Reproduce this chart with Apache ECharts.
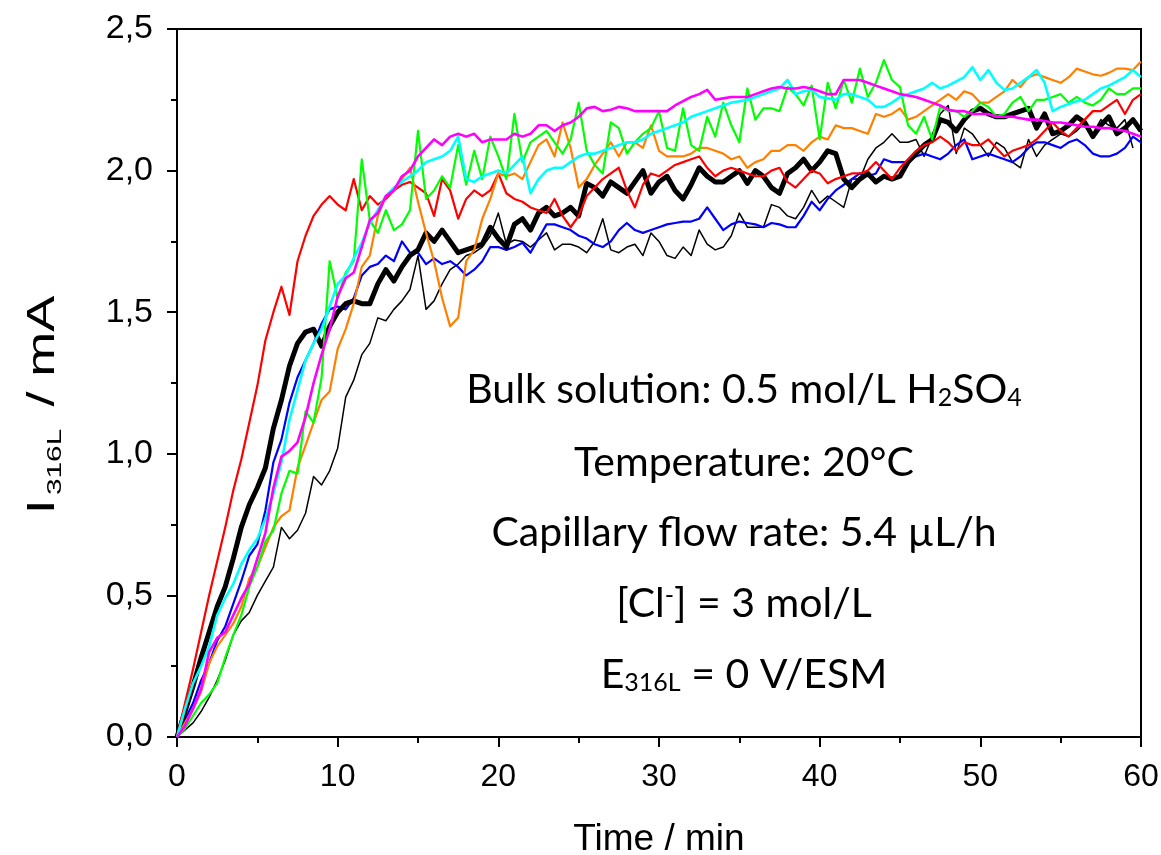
<!DOCTYPE html>
<html>
<head>
<meta charset="utf-8">
<title>I316L vs time</title>
<script src="https://cdn.jsdelivr.net/npm/echarts@6.0.0/dist/echarts.min.js"></script>
<style>
  html, body { margin: 0; padding: 0; background: #fff; }
  #chart { width: 1161px; height: 855px; }
</style>
</head>
<body>
<div id="chart"></div>
<script>
// sampling grid, min
const time = [
  0, 0.5, 1, 1.5, 2, 2.5, 3, 3.5, 4, 4.5,
  5, 5.5, 6, 6.5, 7, 7.5, 8, 8.5, 9, 9.5,
  10, 10.5, 11, 11.5, 12, 12.5, 13, 13.5, 14, 14.5,
  15, 15.5, 16, 16.5, 17, 17.5, 18, 18.5, 19, 19.5,
  20, 20.5, 21, 21.5, 22, 22.5, 23, 23.5, 24, 24.5,
  25, 25.5, 26, 26.5, 27, 27.5, 28, 28.5, 29, 29.5,
  30, 30.5, 31, 31.5, 32, 32.5, 33, 33.5, 34, 34.5,
  35, 35.5, 36, 36.5, 37, 37.5, 38, 38.5, 39, 39.5,
  40, 40.5, 41, 41.5, 42, 42.5, 43, 43.5, 44, 44.5,
  45, 45.5, 46, 46.5, 47, 47.5, 48, 48.5, 49, 49.5,
  50, 50.5, 51, 51.5, 52, 52.5, 53, 53.5, 54, 54.5,
  55, 55.5, 56, 56.5, 57, 57.5, 58, 58.5, 59, 59.5,
  60
];

// current, mA
const red = [
  0, 0.12, 0.24, 0.37, 0.50, 0.62, 0.74, 0.87, 0.98, 1.11,
  1.24, 1.40, 1.50, 1.59, 1.49, 1.68, 1.77, 1.84, 1.88, 1.91,
  1.88, 1.86, 1.97, 1.86, 1.91, 1.88, 1.90, 1.93, 1.95, 1.96,
  1.94, 1.92, 1.84, 1.97, 1.93, 1.83, 1.90, 1.93, 1.91, 1.93,
  1.99, 1.92, 1.90, 1.89, 1.87, 1.86, 1.85, 1.90, 1.84, 1.80,
  1.84, 1.91, 1.94, 1.97, 1.99, 2.01, 1.93, 1.87, 1.95, 1.99,
  1.98, 2.00, 2.02, 2.03, 2.04, 2.05, 2.01, 1.98, 2.00, 2.01,
  2.00, 1.99, 1.98, 1.98, 2.00, 2.01, 1.96, 1.94, 1.97, 2.00,
  1.99, 1.955, 1.97, 1.98, 1.99, 1.99, 2.00, 2.03, 2.00, 1.97,
  2.01, 2.04, 2.07, 2.09, 2.10, 2.12, 2.10, 2.07, 2.10, 2.09,
  2.09, 2.11, 2.08, 2.05, 2.07, 2.08, 2.09, 2.11, 2.14, 2.17,
  2.14, 2.12, 2.15, 2.18, 2.21, 2.21, 2.23, 2.25, 2.20, 2.25,
  2.27
];
const blackThick = [
  0, 0.09, 0.18, 0.28, 0.37, 0.46, 0.53, 0.63, 0.74, 0.82,
  0.88, 0.95, 1.09, 1.19, 1.31, 1.39, 1.43, 1.44, 1.38, 1.45,
  1.50, 1.53, 1.54, 1.53, 1.53, 1.60, 1.65, 1.61, 1.66, 1.70,
  1.72, 1.78, 1.75, 1.79, 1.75, 1.71, 1.72, 1.73, 1.74, 1.80,
  1.76, 1.73, 1.81, 1.83, 1.79, 1.85, 1.87, 1.84, 1.85, 1.87,
  1.84, 1.955, 1.94, 1.91, 1.96, 1.94, 1.92, 1.96, 2.00, 1.92,
  1.96, 1.98, 1.93, 1.90, 1.95, 2.01, 1.98, 1.96, 1.96, 1.98,
  2.00, 1.955, 2.00, 1.98, 1.94, 1.92, 1.99, 2.01, 2.04, 2.00,
  2.03, 2.07, 2.06, 1.97, 1.94, 1.97, 1.99, 1.96, 1.98, 1.97,
  1.98, 2.03, 2.06, 2.09, 2.11, 2.18, 2.17, 2.14, 2.18, 2.21,
  2.22, 2.20, 2.19, 2.19, 2.20, 2.21, 2.22, 2.15, 2.20, 2.13,
  2.14, 2.16, 2.19, 2.17, 2.12, 2.16, 2.19, 2.13, 2.15, 2.18,
  2.14
];
const blackThin = [
  0, 0.025, 0.05, 0.09, 0.14, 0.20, 0.27, 0.36, 0.41, 0.44,
  0.50, 0.55, 0.60, 0.74, 0.70, 0.73, 0.79, 0.92, 0.89, 0.94,
  1.02, 1.20, 1.26, 1.35, 1.39, 1.48, 1.47, 1.51, 1.54, 1.58,
  1.70, 1.51, 1.54, 1.60, 1.65, 1.67, 1.70, 1.71, 1.73, 1.77,
  1.85, 1.74, 1.755, 1.75, 1.73, 1.755, 1.78, 1.72, 1.74, 1.74,
  1.73, 1.71, 1.75, 1.83, 1.72, 1.71, 1.73, 1.74, 1.70, 1.78,
  1.75, 1.70, 1.69, 1.73, 1.70, 1.79, 1.74, 1.72, 1.73, 1.77,
  1.85, 1.80, 1.80, 1.80, 1.88, 1.87, 1.84, 1.83, 1.87, 1.93,
  1.885, 1.91, 1.89, 1.87, 1.97, 1.97, 2.04, 2.08, 2.10, 2.13,
  2.10, 2.10, 2.11, 2.05, 2.12, 2.20, 2.23, 2.06, 2.15, 2.13,
  2.09, 2.05, 2.10, 2.08, 2.03, 2.01, 2.11, 2.05, 2.09, 2.11,
  2.13, 2.12, 2.14, 2.17, 2.13, 2.18, 2.16, 2.15, 2.18, 2.08,
  null
];
const blue = [
  0, 0.06, 0.12, 0.20, 0.26, 0.34, 0.39, 0.47, 0.55, 0.64,
  0.68, 0.80, 0.97, 1.05, 1.18, 1.27, 1.33, 1.39, 1.46, 1.51,
  1.52, 1.51, 1.55, 1.63, 1.66, 1.67, 1.70, 1.68, 1.75, 1.71,
  1.71, 1.67, 1.69, 1.67, 1.68, 1.66, 1.63, 1.65, 1.68, 1.73,
  1.73, 1.72, 1.73, 1.745, 1.71, 1.76, 1.81, 1.81, 1.80, 1.79,
  1.77, 1.76, 1.74, 1.73, 1.75, 1.79, 1.815, 1.79, 1.78, 1.79,
  1.80, 1.81, 1.815, 1.82, 1.82, 1.83, 1.87, 1.83, 1.79, 1.81,
  1.82, 1.815, 1.81, 1.80, 1.815, 1.81, 1.80, 1.80, 1.84, 1.89,
  1.86, 1.90, 1.93, 1.95, 1.97, 1.99, 1.98, 1.99, 2.04, 2.03,
  2.03, 2.03, 2.05, 2.06, 2.05, 2.04, 2.06, 2.09, 2.11, 2.04,
  2.05, 2.06, 2.05, 2.04, 2.03, 2.05, 2.08, 2.10, 2.10, 2.09,
  2.08, 2.10, 2.11, 2.09, 2.06, 2.05, 2.05, 2.06, 2.08, 2.12,
  2.10
];
const orange = [
  0, 0.05, 0.10, 0.16, 0.26, 0.32, 0.36, 0.40, 0.46, 0.56,
  0.60, 0.67, 0.74, 0.78, 0.80, 0.95, 1.03, 1.11, 1.19, 1.22,
  1.37, 1.44, 1.53, 1.66, 1.70, 1.84, 1.91, 1.93, 1.97, 2.01,
  1.89, 1.78, 1.68, 1.55, 1.45, 1.48, 1.68, 1.72, 1.83, 1.90,
  1.99, 1.98, 1.99, 1.97, 2.03, 2.09, 2.11, 2.05, 2.17, 2.08,
  1.94, 1.97, 2.02, 2.06, 2.10, 2.05, 2.10, 2.10, 2.08, 2.16,
  2.07, 2.05, 2.05, 2.05, 2.06, 2.08, 2.08, 2.07, 2.06, 2.04,
  2.05, 2.01, 2.03, 2.04, 2.07, 2.07, 2.09, 2.09, 2.07, 2.10,
  2.12, 2.11, 2.16, 2.15, 2.15, 2.14, 2.13, 2.20, 2.19, 2.20,
  2.22, 2.18, 2.19, 2.21, 2.23, 2.25, 2.27, 2.25, 2.28, 2.27,
  2.24, 2.24, 2.26, 2.28, 2.32, 2.295, 2.33, 2.34, 2.33, 2.32,
  2.31, 2.33, 2.36, 2.35, 2.34, 2.335, 2.345, 2.36, 2.36, 2.355,
  2.385
];
const green = [
  0, 0.03, 0.075, 0.12, 0.15, 0.19, 0.28, 0.36, 0.43, 0.53,
  0.60, 0.69, 0.73, 0.86, 0.94, 0.93, 1.15, 1.11, 1.27, 1.68,
  1.55, 1.64, 1.68, 2.04, 1.825, 1.78, 1.86, 1.79, 1.81, 1.86,
  2.14, 1.90, 1.93, 1.98, 1.94, 2.09, 1.95, 2.07, 1.97, 2.12,
  2.05, 1.97, 2.20, 2.03, 2.10, 2.12, 2.14, 2.10, 2.06, 2.11,
  2.24, 2.07, 2.02, 1.99, 2.17, 2.15, 2.06, 2.10, 2.13, 2.15,
  2.21, 2.08, 2.07, 2.22, 2.09, 2.07, 2.19, 2.12, 2.24, 2.16,
  2.10, 2.29, 2.18, 2.22, 2.22, 2.21, 2.295, 2.27, 2.23, 2.30,
  2.11, 2.31, 2.22, 2.32, 2.24, 2.36, 2.26, 2.31, 2.39, 2.32,
  2.295, 2.16, 2.13, 2.19, 2.11, 2.225, 2.21, 2.21, 2.19, 2.21,
  2.24, 2.225, 2.19, 2.20, 2.24, 2.26, 2.21, 2.25, 2.25, 2.26,
  2.27, 2.24, 2.26, 2.24, 2.23, 2.25, 2.29, 2.27, 2.27, 2.29,
  2.29
];
const cyan = [
  0, 0.10, 0.19, 0.25, 0.32, 0.43, 0.49, 0.54, 0.61, 0.66,
  0.70, 0.77, 0.86, 0.97, 1.12, 1.225, 1.33, 1.39, 1.44, 1.52,
  1.60, 1.63, 1.69, 1.745, 1.815, 1.86, 1.91, 1.94, 1.96, 1.98,
  2.00, 2.03, 2.04, 2.05, 2.07, 2.12, 1.97, 1.96, 1.98, 1.99,
  2.00, 1.99, 2.02, 2.05, 1.92, 1.97, 2.00, 2.01, 2.01, 2.03,
  2.05, 2.06, 2.06, 2.07, 2.08, 2.09, 2.10, 2.10, 2.11, 2.13,
  2.14, 2.15, 2.16, 2.17, 2.19, 2.20, 2.21, 2.22, 2.23, 2.24,
  2.245, 2.25, 2.26, 2.27, 2.28, 2.29, 2.32, 2.27, 2.28, 2.285,
  2.26, 2.255, 2.25, 2.27, 2.27, 2.26, 2.25, 2.225, 2.225, 2.24,
  2.26, 2.27, 2.28, 2.29, 2.31, 2.29, 2.30, 2.315, 2.33, 2.365,
  2.32, 2.355, 2.31, 2.285, 2.29, 2.31, 2.33, 2.355, 2.31, 2.21,
  2.225, 2.235, 2.245, 2.25, 2.27, 2.29, 2.30, 2.315, 2.33, 2.355,
  2.33
];
const magenta = [
  0, 0.04, 0.10, 0.17, 0.30, 0.35, 0.37, 0.43, 0.49, 0.54,
  0.63, 0.72, 0.88, 0.99, 1.01, 1.04, 1.13, 1.25, 1.35, 1.44,
  1.555, 1.62, 1.64, 1.73, 1.825, 1.85, 1.91, 1.93, 1.98, 2.00,
  2.05, 2.08, 2.11, 2.09, 2.12, 2.13, 2.12, 2.13, 2.10, 2.11,
  2.11, 2.11, 2.13, 2.12, 2.13, 2.16, 2.16, 2.14, 2.16, 2.17,
  2.19, 2.22, 2.225, 2.21, 2.215, 2.225, 2.22, 2.21, 2.21, 2.21,
  2.21, 2.21, 2.23, 2.245, 2.26, 2.27, 2.285, 2.25, 2.255, 2.26,
  2.26, 2.26, 2.27, 2.28, 2.29, 2.295, 2.29, 2.29, 2.295, 2.29,
  2.28, 2.27, 2.27, 2.32, 2.32, 2.32, 2.31, 2.30, 2.29, 2.28,
  2.27, 2.265, 2.26, 2.25, 2.24, 2.23, 2.215, 2.21, 2.21, 2.20,
  2.20, 2.20, 2.19, 2.19, 2.19, 2.185, 2.18, 2.18, 2.175, 2.17,
  2.17, 2.165, 2.16, 2.155, 2.155, 2.15, 2.15, 2.145, 2.14, 2.13,
  2.12
];

// drawing order: first is underneath
const traces = [
  { name: 'run 1', values: blackThin, color: '#000000', width: 1.5 },
  { name: 'run 2', values: blue, color: '#0000ff', width: 2.2 },
  { name: 'run 3', values: blackThick, color: '#000000', width: 5 },
  { name: 'run 4', values: red, color: '#ff0000', width: 2.2 },
  { name: 'run 5', values: orange, color: '#ff8000', width: 2.2 },
  { name: 'run 6', values: green, color: '#00ff00', width: 2.2 },
  { name: 'run 7', values: cyan, color: '#00ffff', width: 2.6 },
  { name: 'run 8', values: magenta, color: '#ff00ff', width: 2.6 },
];

const axisFont = 'Liberation Sans, Arial, sans-serif';
const noteFont = 'Lato, Open Sans, sans-serif';

const chart = echarts.init(document.getElementById('chart'));

const noteLines = [
  'Bulk solution: 0.5 mol/L H{sub|2}SO{sub|4}',
  'Temperature: 20°C',
  'Capillary flow rate: 5.4 µL/h',
  '[Cl{sup|-}] = 3 mol/L',
  'E{sub|316L} = 0 V/ESM',
];
const noteY = [390, 463, 533, 604, 675];

const notes = noteLines.map((txt, i) => ({
  type: 'text',
  x: 744,
  y: noteY[i],
  style: {
    text: txt,
    align: 'center',
    verticalAlign: 'middle',
    font: '41px ' + noteFont,
    fill: '#000',
    rich: {
      sub: { font: '25px ' + noteFont, lineHeight: 22, padding: [16, 0, 0, 0], verticalAlign: 'bottom', fill: '#000' },
      sup: { font: '25px ' + noteFont, lineHeight: 22, verticalAlign: 'top', fill: '#000' },
    },
  },
}));

// y axis title, stretched along its length like the original
const yTitle = {
  type: 'text',
  x: 44,
  y: 405,
  rotation: Math.PI / 2,
  scaleX: 1.42,
  style: {
    text: '{m|I}{s|316L}{m| / mA}',
    align: 'center',
    verticalAlign: 'middle',
    fill: '#000',
    rich: {
      m: { font: '38px ' + axisFont, lineHeight: 44, fill: '#000' },
      s: { font: '21px ' + axisFont, lineHeight: 22, padding: [12, 5, 0, 3], verticalAlign: 'bottom', fill: '#000' },
    },
  },
};

chart.setOption({
  animation: false,
  backgroundColor: '#fff',
  grid: {
    left: 177,
    right: 20,
    top: 29,
    bottom: 118,
    outerBoundsMode: 'none',
    containLabel: false,
    show: true,
    borderColor: '#000',
    borderWidth: 2,
  },
  xAxis: {
    type: 'value',
    min: 0,
    max: 60,
    interval: 10,
    name: 'Time / min',
    nameLocation: 'middle',
    nameGap: 84,
    nameTextStyle: { fontFamily: axisFont, fontSize: 37, color: '#000' },
    axisLine: { lineStyle: { color: '#000', width: 2 } },
    axisTick: { inside: false, length: 10, lineStyle: { color: '#000', width: 2 } },
    minorTick: { show: true, splitNumber: 2, length: 6, lineStyle: { color: '#000', width: 2 } },
    splitLine: { show: false },
    axisLabel: { fontFamily: axisFont, fontSize: 32, color: '#000', margin: 24 },
  },
  yAxis: {
    type: 'value',
    min: 0,
    max: 2.5,
    interval: 0.5,
    axisLine: { lineStyle: { color: '#000', width: 2 } },
    axisTick: { inside: false, length: 10, lineStyle: { color: '#000', width: 2 } },
    minorTick: { show: true, splitNumber: 2, length: 6, lineStyle: { color: '#000', width: 2 } },
    splitLine: { show: false },
    axisLabel: {
      fontFamily: axisFont,
      fontSize: 34,
      color: '#000',
      margin: 24,
      formatter: (v) => v.toFixed(1).replace('.', ','),
    },
  },
  graphic: notes.concat([yTitle]),
  series: traces.map((tr) => ({
    name: tr.name,
    type: 'line',
    showSymbol: false,
    connectNulls: false,
    clip: true,
    lineStyle: { color: tr.color, width: tr.width, join: 'round' },
    itemStyle: { color: tr.color },
    data: time.map((t, i) => [t, tr.values[i]]),
  })),
});
</script>
</body>
</html>
